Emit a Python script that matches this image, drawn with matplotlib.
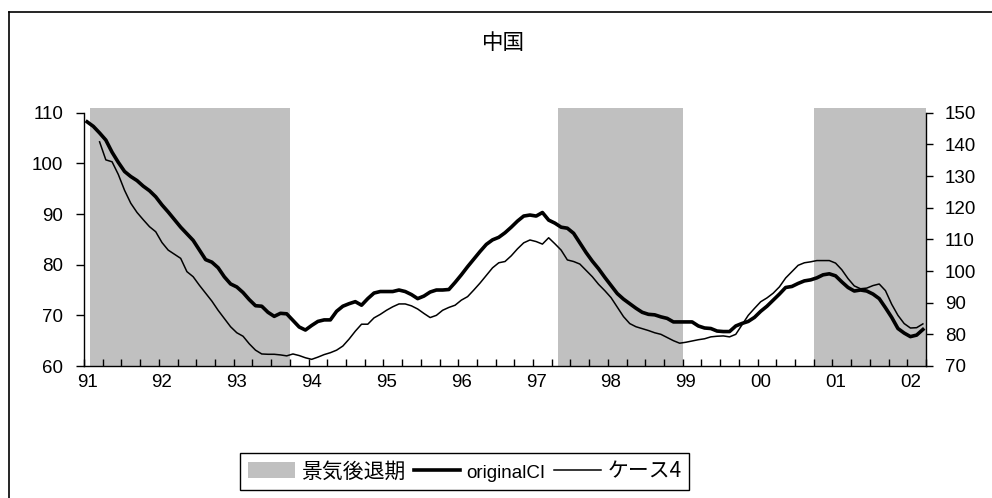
import numpy as np
import matplotlib.pyplot as plt
from matplotlib.patches import Patch
from matplotlib.lines import Line2D

plt.rcParams['font.family'] = ['Liberation Sans', 'Noto Sans CJK JP']
cjk = ['Noto Sans CJK JP', 'DejaVu Sans']

# monthly series, Jan 1991 .. Mar 2002
original_ci = [
    108.2, 107.3, 106.0, 104.6, 102.2, 100.2, 98.4, 97.4, 96.6, 95.5,
    94.6, 93.4, 91.8, 90.4, 88.9, 87.4, 86.1, 84.8, 82.9, 81.0,
    80.5, 79.4, 77.6, 76.2, 75.6, 74.5, 73.1, 71.9, 71.8, 70.6,
    69.8, 70.4, 70.3, 69.0, 67.7, 67.1, 68.0, 68.8, 69.1, 69.1,
    70.8, 71.8, 72.3, 72.7, 72.0, 73.3, 74.4, 74.7, 74.7, 74.7,
    75.0, 74.7, 74.1, 73.3, 73.8, 74.6, 75.0, 75.0, 75.1, 76.5,
    78.0, 79.6, 81.1, 82.6, 84.0, 84.9, 85.4, 86.3, 87.4, 88.6,
    89.6, 89.8, 89.6, 90.3, 88.8, 88.2, 87.4, 87.2, 86.2, 84.3,
    82.4, 80.7, 79.2, 77.5, 75.9, 74.3, 73.2, 72.3, 71.4, 70.6,
    70.2, 70.1, 69.7, 69.4, 68.7, 68.7, 68.7, 68.7, 67.9, 67.5,
    67.4, 66.9, 66.8, 66.8, 67.9, 68.4, 68.8, 69.6, 70.8, 71.8,
    73.0, 74.2, 75.5, 75.7, 76.3, 76.8, 77.0, 77.4, 78.0, 78.2,
    77.8, 76.6, 75.5, 74.8, 75.0, 74.8, 74.2, 73.3, 71.5, 69.6,
    67.4, 66.5, 65.8, 66.1, 67.2,
]

# case 4 starts in Mar 1991 (right axis)
case4_start = 2
case4 = [
    140.8, 135.1, 134.5, 130.5, 125.5, 121.4, 118.5, 116.2, 114.0, 112.4,
    109.0, 106.6, 105.3, 104.0, 99.8, 98.2, 95.5, 93.0, 90.5, 87.6,
    85.0, 82.4, 80.5, 79.4, 77.0, 75.0, 73.8, 73.7, 73.7, 73.5,
    73.2, 73.8, 73.3, 72.6, 72.1, 72.8, 73.6, 74.2, 75.0, 76.3,
    78.5, 81.0, 83.2, 83.2, 85.2, 86.3, 87.6, 88.7, 89.6, 89.6,
    89.0, 88.0, 86.6, 85.3, 86.0, 87.6, 88.5, 89.2, 90.8, 91.9,
    94.0, 96.2, 98.6, 101.0, 102.6, 103.0, 104.8, 107.0, 108.9, 109.8,
    109.3, 108.5, 110.5, 108.6, 106.6, 103.5, 103.0, 102.2, 100.2, 98.2,
    95.8, 93.8, 91.6, 88.6, 85.6, 83.4, 82.4, 81.8, 81.2, 80.5,
    80.0, 79.0, 78.0, 77.2, 77.5, 77.9, 78.3, 78.6, 79.2, 79.4,
    79.5, 79.2, 80.0, 83.0, 86.0, 88.2, 90.3, 91.5, 93.0, 95.0,
    97.8, 99.8, 101.8, 102.6, 102.9, 103.3, 103.3, 103.3, 102.5, 100.4,
    97.6, 95.3, 94.4, 94.6, 95.4, 95.9, 93.8, 89.5, 86.0, 83.4,
    82.0, 82.1, 83.3,
]

# recession periods as (first month, last month) indices
recessions = [(1, 32), (76, 95), (117, 134)]
year_labels = ['91', '92', '93', '94', '95', '96', '97', '98', '99', '00', '01', '02']

W, H = 992, 498
fig = plt.figure(figsize=(W / 100, H / 100), dpi=100)
ax = fig.add_axes([84 / W, 1 - 366 / H, (926 - 84) / W, (366 - 112.7) / H])
ax2 = ax.twinx()

gray = '#c0c0c0'
for a, b in recessions:
    ax.axvspan(a - 0.5, b + 0.5, ymin=0, ymax=1.0174, color=gray, lw=0,
               clip_on=False, zorder=0)

months = np.arange(len(original_ci))
ax.plot(months, original_ci, color='black', lw=2.6, zorder=3)
m4 = np.arange(case4_start, case4_start + len(case4))
ax2.plot(m4, case4, color='black', lw=1.1)

ax.set_xlim(-0.5, len(original_ci) - 0.5)
ax.set_ylim(60, 110)
ax2.set_ylim(70, 150)
ax.set_yticks(range(60, 111, 10))
ax2.set_yticks(range(70, 151, 10))

ax.set_xticks(np.arange(-0.5, len(original_ci), 3))
ax.set_xticks(np.arange(0, len(original_ci), 12), minor=True)
ax.set_xticklabels(year_labels, minor=True)
ax.tick_params(axis='x', which='major', direction='in', length=5, width=1,
               labelbottom=False)
ax.tick_params(axis='x', which='minor', length=0, pad=6, labelsize=13.5)
ax.tick_params(axis='y', direction='out', length=6, width=1, pad=9, labelsize=13.5)
ax2.tick_params(axis='y', direction='out', length=5, width=1, pad=8.5, labelsize=13.5)

for s in ['top', 'right']:
    ax.spines[s].set_visible(False)
for s in ['top', 'left', 'bottom']:
    ax2.spines[s].set_visible(False)
for a_ in (ax, ax2):
    for s in a_.spines.values():
        s.set_linewidth(1)

fig.text(503 / W, 1 - 43 / H, '中国', ha='center', va='center',
         fontsize=15.5, family=cjk)

handles = [Patch(facecolor=gray, edgecolor='none'),
           Line2D([], [], color='black', lw=2.6),
           Line2D([], [], color='black', lw=1.1)]
leg = fig.legend(handles, ['景気後退期', 'originalCI', 'ケース4'],
                 loc='center', bbox_to_anchor=(464.5 / W, 1 - 471.5 / H),
                 ncol=3, fancybox=False, framealpha=1, edgecolor='black',
                 prop={'family': cjk, 'size': 15}, handlelength=2.25,
                 handleheight=0.8, handletextpad=0.3, columnspacing=0.4,
                 borderpad=0.35, borderaxespad=0)
leg.get_frame().set_linewidth(1)
leg.get_texts()[1].set_fontfamily(['Liberation Sans'])
leg.get_texts()[1].set_fontsize(13.5)

# outer frame: only top and left edges fall inside the image
fig.add_artist(Line2D([9 / W, 1], [1 - 12 / H, 1 - 12 / H], color='black', lw=1.2))
fig.add_artist(Line2D([9 / W, 9 / W], [1 - 12 / H, 0], color='black', lw=1.2))

fig.savefig('out.png', dpi=100)
